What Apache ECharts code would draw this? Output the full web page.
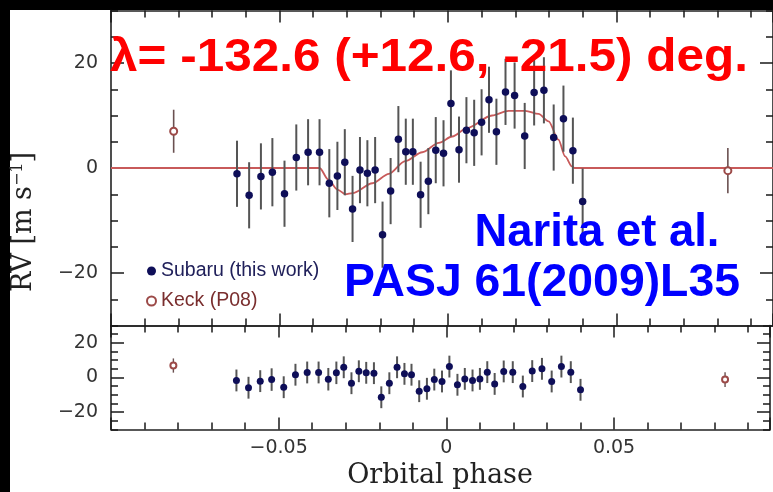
<!DOCTYPE html>
<html><head><meta charset="utf-8">
<script src="https://cdn.jsdelivr.net/npm/echarts@6/dist/echarts.min.js"></script>
<style>
html,body{margin:0;padding:0;background:#000;}
#wrap{position:relative;width:773px;height:492px;background:#000;overflow:hidden;}
#paper{position:absolute;left:10px;top:10px;width:763px;height:482px;background:#fff;}
#c{position:absolute;left:0;top:0;width:773px;height:492px;}
</style>
</head><body>
<div id="wrap"><div id="paper"></div><div id="c"></div></div>
<script>
// ---- data ----
const subaruPhase = [-0.0626,-0.0590,-0.0555,-0.0521,-0.0485,-0.0450,-0.0415,-0.0381,-0.0352,-0.0328,
  -0.0306,-0.0283,-0.0261,-0.0239,-0.0216,-0.0194,-0.0170,-0.0147,-0.0125,-0.0104,
  -0.0081,-0.0058,-0.0036,-0.0013,0.0009,0.0033,0.0055,0.0078,0.0100,0.0122,
  0.0144,0.0171,0.0198,0.0228,0.0256,0.0285,0.0314,0.0343,0.0371,0.0400];
const subaruRV = [-1.1,-5.2,-1.6,-0.8,-4.9,2.0,3.0,3.0,-2.9,-1.5,
  1.1,-7.8,-0.4,-1.0,-0.4,-12.7,-4.4,5.5,3.1,3.1,
  -5.1,-2.5,3.4,2.8,12.3,3.5,7.2,6.7,8.7,13.0,
  6.9,14.5,13.8,6.1,14.4,14.8,5.8,9.4,3.3,-6.4];
const subaruErr = [6.3,6.3,6.3,6.5,6.3,6.3,6.3,6.3,6.5,6.5,
  6.3,6.3,6.3,6.3,6.3,6.3,6.3,6.3,6.3,6.3,
  6.3,6.3,6.3,6.3,6.3,6.3,6.3,6.3,6.3,6.3,
  6.3,6.3,6.3,6.3,6.3,6.3,6.3,6.3,6.3,6.3];
const subaruResid = [-1.7,-5.9,-2.1,-1.2,-5.6,1.6,2.9,2.9,-1.0,2.7,
  5.9,-3.3,3.6,2.7,2.5,-11.4,-3.3,5.9,2.1,1.6,
  -7.9,-6.5,-1.2,-2.3,6.3,-4.2,-0.8,-1.7,-0.8,3.1,
  -3.7,3.5,3.1,-5.2,3.7,5.0,-2.3,6.3,3.1,-7.1];
const keckPhase = [-0.0814, 0.0831];
const keckRV = [7.0, -0.5];
const keckErr = [4.1, 4.3];
const keckResid = [6.9, -1.2];
const modelPhase = [-0.1,-0.0381,-0.0355,-0.0328,-0.0304,-0.0283,-0.0224,-0.0175,-0.0127,-0.0076,
  -0.0027,0.0013,0.0057,0.0131,0.0180,0.0230,0.0269,0.0299,0.0328,0.0348,0.0368,0.0376,0.1];
const modelRV = [0,0,-2.2,-4.1,-5.0,-4.8,-2.9,-1.1,1.3,3.0,
  4.8,6.0,7.6,10.0,10.9,10.9,10.3,8.9,5.4,2.2,0.3,0,0];
const yTickLabels = [-20, 0, 20];
const xTickLabels = [-0.05, 0, 0.05];

// ---- chart ----
const chart = echarts.init(document.getElementById('c'), null, {renderer:'canvas'});
const AX = '#222';
const TK = '#1a1a1a';
const tickFont = {fontFamily:'DejaVu Sans', fontSize:19, color:'#333'};
const XMIN = -0.1, XMAX = 0.0965;

function fmtNum(v){ const s = String(v); return v < 0 ? '\u2212' + s.slice(1) : s; }
function yLab(v){
  const hit = yTickLabels.find(t => Math.abs(t - v) < 1e-9);
  return hit === undefined ? '' : fmtNum(hit);
}
function xLab(v){
  const hit = xTickLabels.find(t => Math.abs(t - v) < 1e-9);
  return hit === undefined ? '' : fmtNum(hit);
}
function mkX(grid, pos, major, labels){
  return {type:'value', gridIndex:grid, position:pos, min:XMIN, max:XMAX, interval: major ? 0.05 : 0.01,
    axisLine:{show:!major, onZero:false, lineStyle:{color:AX, width:1.6}},
    axisTick:{show:true, inside:true, length: major ? 12 : 7, lineStyle:{color:TK, width:1.5}},
    splitLine:{show:false},
    axisLabel:{show:labels, formatter:xLab, margin:9, ...tickFont}};
}
function mkY(grid, pos, major, labels){
  const o = {type:'value', gridIndex:grid, position:pos, min:-30, max:30, interval: 5,
    axisLine:{show:!major, onZero:false, lineStyle:{color:AX, width:1.6}},
    axisTick:{show:true, inside:true, length: major ? 13 : 7, lineStyle:{color:TK, width:1.5}},
    splitLine:{show:false},
    axisLabel:{show:labels, formatter:yLab, margin:13, ...tickFont}};
  if (major) o.axisTick.customValues = yTickLabels.slice();
  return o;
}
function errRender(color, width){
  return function(params, api){
    const x = api.value(0);
    const p1 = api.coord([x, api.value(1)]), p2 = api.coord([x, api.value(2)]);
    return {type:'line', shape:{x1:p1[0], y1:p1[1], x2:p2[0], y2:p2[1]},
      style:{stroke:color, lineWidth:width}};
  };
}
function errData(xs, vs, es){ return xs.map((x,i) => [x, vs[i]-es[i], vs[i]+es[i]]); }
function pts(xs, vs){ return xs.map((x,i) => [x, vs[i]]); }

const SUB = '#0e0e58', KECK = '#9c4a48';
const mctx = document.createElement('canvas').getContext('2d');
function fitScale(text, font, target){ mctx.font = font; return target / mctx.measureText(text).width; }

const redText = '\u03bb= -132.6 (+12.6, -21.5) deg.';
const redFont = 'bold 46px "Liberation Sans"';
const blue1 = 'Narita et al.', blue2 = 'PASJ 61(2009)L35';
const blueFont = 'bold 46px "Liberation Sans"';
const PX = 3380;
const gridW = (XMAX - XMIN) * PX;

chart.setOption({
  animation:false,
  backgroundColor:'transparent',
  grid:[
    {left:111, top:10.5, width:gridW, height:315},
    {left:111, top:325.5, width:gridW, height:104}
  ],
  xAxis:[
    mkX(0,'bottom',false,false), mkX(0,'bottom',true,false), mkX(0,'top',false,false), mkX(0,'top',true,false),
    mkX(1,'bottom',false,true), mkX(1,'bottom',true,false), mkX(1,'top',false,false), mkX(1,'top',true,false)
  ],
  yAxis:[
    mkY(0,'left',false,true), mkY(0,'left',true,false), mkY(0,'right',false,false), mkY(0,'right',true,false),
    mkY(1,'left',false,true), mkY(1,'left',true,false), mkY(1,'right',false,false), mkY(1,'right',true,false)
  ],
  legend:{left:141, top:256, orient:'vertical', itemWidth:9, itemHeight:9, itemGap:10,
    textStyle:{fontFamily:'Liberation Sans', fontSize:19.5},
    data:[
      {name:'Subaru (this work)', icon:'circle', textStyle:{color:'#20205a'}},
      {name:'Keck (P08)', icon:'emptyCircle', textStyle:{color:'#7a2e2e'}}
    ]},
  series:[
    {type:'line', name:'model', xAxisIndex:0, yAxisIndex:0, data:pts(modelPhase, modelRV),
      showSymbol:false, smooth:0.3, smoothMonotone:'x', lineStyle:{color:'#c85a5a', width:1.8}, z:2},
    {type:'custom', name:'subErr', xAxisIndex:0, yAxisIndex:0, renderItem:errRender('#555', 2),
      data:errData(subaruPhase, subaruRV, subaruErr), encode:{x:0, y:[1,2]}, z:3},
    {type:'custom', name:'keckErr', xAxisIndex:0, yAxisIndex:0, renderItem:errRender('#6a5050', 1.6),
      data:errData(keckPhase, keckRV, keckErr), encode:{x:0, y:[1,2]}, z:3},
    {type:'scatter', name:'Subaru (this work)', xAxisIndex:0, yAxisIndex:0, data:pts(subaruPhase, subaruRV),
      symbol:'circle', symbolSize:7.5, itemStyle:{color:SUB, opacity:1}, z:4},
    {type:'scatter', name:'Keck (P08)', xAxisIndex:0, yAxisIndex:0, data:pts(keckPhase, keckRV),
      symbol:'emptyCircle', symbolSize:7, itemStyle:{color:KECK, borderWidth:1.2, opacity:1}, z:4},
    {type:'custom', name:'subErrR', xAxisIndex:4, yAxisIndex:4, renderItem:errRender('#555', 2),
      data:errData(subaruPhase, subaruResid, subaruErr), encode:{x:0, y:[1,2]}, z:3},
    {type:'custom', name:'keckErrR', xAxisIndex:4, yAxisIndex:4, renderItem:errRender('#6a5050', 1.4),
      data:errData(keckPhase, keckResid, keckErr), encode:{x:0, y:[1,2]}, z:3},
    {type:'scatter', name:'Subaru resid', xAxisIndex:4, yAxisIndex:4, data:pts(subaruPhase, subaruResid),
      symbol:'circle', symbolSize:7, itemStyle:{color:SUB, opacity:1}, z:4},
    {type:'scatter', name:'Keck resid', xAxisIndex:4, yAxisIndex:4, data:pts(keckPhase, keckResid),
      symbol:'emptyCircle', symbolSize:6, itemStyle:{color:KECK, borderWidth:1.2, opacity:1}, z:4}
  ],
  graphic:[
    {type:'text', x:24, y:222, rotation:Math.PI/2, z:50,
      style:{text:'{a|RV [m s}{b|\u22121}{a|]}', align:'center', verticalAlign:'middle', fill:'#222',
        rich:{a:{fontFamily:'DejaVu Serif', fontSize:27, fill:'#222'},
              b:{fontFamily:'DejaVu Serif', fontSize:16, fill:'#222', verticalAlign:'top', padding:[0,0,12,0]}}}},
    {type:'text', x:440, y:476, z:50,
      style:{text:'Orbital phase', font:'27px "DejaVu Serif"', fill:'#222', align:'center', verticalAlign:'middle'}},
    {type:'text', x:429, y:58, z:60, scaleX:fitScale(redText, redFont, 638),
      style:{text:redText, font:redFont, fill:'#ff0000', align:'center', verticalAlign:'middle'}},
    {type:'text', x:597, y:233, z:60, scaleX:fitScale(blue1, blueFont, 245),
      style:{text:blue1, font:blueFont, fill:'#0000ff', align:'center', verticalAlign:'middle'}},
    {type:'text', x:542, y:283, z:60, scaleX:fitScale(blue2, blueFont, 396),
      style:{text:blue2, font:blueFont, fill:'#0000ff', align:'center', verticalAlign:'middle'}}
  ]
});
</script>
</body></html>
